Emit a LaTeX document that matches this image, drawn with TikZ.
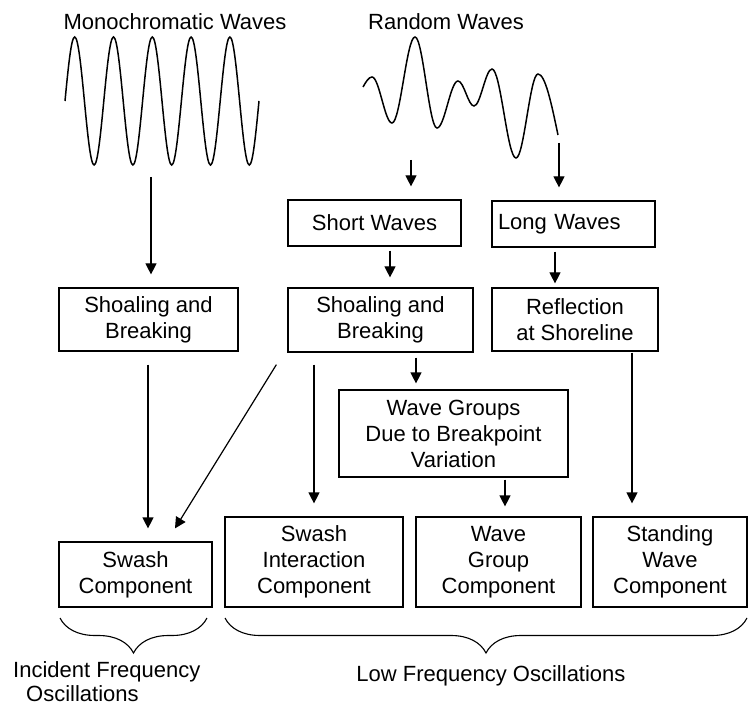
\documentclass[tikz,border=0pt]{standalone}
\usepackage{fontspec}
\setmainfont{Liberation Sans}
\usetikzlibrary{arrows.meta,calc,decorations.pathreplacing}

\begin{document}
\begin{tikzpicture}[x=1pt, y=-1pt,
    box/.style={draw, line width=1.2pt, inner sep=0pt, align=center, font=\fontsize{22}{26}\selectfont},
    lbl/.style={inner sep=0pt, align=center, font=\fontsize{22}{26}\selectfont},
    arr/.style={-{Triangle[length=11pt, width=11pt]}, line width=1.2pt},
    wave/.style={line width=1.5pt},
    brc/.style={decorate, decoration={brace, mirror, amplitude=35pt}, line width=1.1pt}]
    \useasboundingbox (0,0) rectangle (748,706);

    % Define nodes
    \node (mono) at (175,22) [lbl] {Monochromatic Waves};
    \node (rand) at (446,22) [lbl] {Random Waves};
    \node (short) at (374.5,223) [box, minimum width=173pt, minimum height=46pt] {Short Waves};
    \node (long) at (573.5,224) [box, minimum width=163pt, minimum height=46pt, text width=151pt, align=left] {Long Waves};
    \node (shoalL) at (148.5,319.5) [box, minimum width=179pt, minimum height=63pt] {Shoaling and\\Breaking};
    \node (shoalM) at (380.5,320) [box, minimum width=185pt, minimum height=64pt] {Shoaling and\\Breaking};
    \node (refl) at (575,319.5) [box, minimum width=166pt, minimum height=63pt] {Reflection\\at Shoreline};
    \node (groups) at (453.5,433.5) [box, minimum width=229pt, minimum height=87pt] {Wave Groups\\Due to Breakpoint\\Variation};
    \node (swash) at (135.5,574.5) [box, minimum width=153pt, minimum height=65pt] {Swash\\Component};
    \node (swint) at (314,562) [box, minimum width=178pt, minimum height=90pt] {Swash\\Interaction\\Component};
    \node (wgc) at (498.5,562) [box, minimum width=165pt, minimum height=90pt] {Wave\\Group\\Component};
    \node (stand) at (670,562) [box, minimum width=154pt, minimum height=90pt] {Standing\\Wave\\Component};
    \node (incid) at (13,661) [lbl, anchor=north west, align=left, font=\fontsize{22}{24}\selectfont] {Incident Frequency\\\hspace{13pt}Oscillations};
    \node (low) at (491,665) [lbl, anchor=north] {Low Frequency Oscillations};

    % Waves
    \draw[wave] (65,101) \foreach \i in {1,...,5} { sin ++(9.7,-64) cos ++(9.7,64) sin ++(9.7,64) cos ++(9.7,-64) };
    \draw[wave] (363,87) sin (372,77) cos (382,100) sin (392,123) cos (403.5,80) sin (415,37)
        cos (426,82.5) sin (437,128) cos (447.5,104.5) sin (458,81) cos (466,93.5) sin (474,106)
        cos (483,87.5) sin (492,69) cos (504,113.5) sin (516,158) cos (527,116) sin (538,74) cos (558,135);

    % Draw arrows
    \coordinate (monoA) at (151,177);
    \coordinate (randA) at (411,160);
    \coordinate (randB) at (559,143);
    \draw[arr, shorten >=13pt] (monoA) -- (monoA |- shoalL.north);
    \draw[arr, shorten >=13pt] (randA) -- (randA |- short.north);
    \draw[arr, shorten >=13pt] (randB) -- (randB |- long.north);
    \draw[arr, shorten <=4pt, shorten >=10pt] (short.south -| 390,0) -- (shoalM.north -| 390,0);
    \draw[arr, shorten <=4pt, shorten >=4pt] (long.south -| 555,0) -- (refl.north -| 555,0);
    \draw[arr, shorten <=13pt, shorten >=13pt] (shoalL.south -| 148,0) -- (swash.north -| 148,0);
    \draw[arr] ($(shoalM.south west)+(-11,12)$) -- ($(swash.north)+(39.5,-13)$);
    \draw[arr, shorten <=12pt, shorten >=13pt] (shoalM.south -| 314,0) -- (swint.north -| 314,0);
    \draw[arr, shorten <=5pt, shorten >=6pt] (shoalM.south -| 416,0) -- (groups.north -| 416,0);
    \draw[arr, shorten <=2pt, shorten >=10pt] (groups.south -| 505,0) -- (wgc.north -| 505,0);
    \draw[arr, shorten <=1pt, shorten >=13pt] (refl.south -| 632,0) -- (stand.north -| 632,0);

    % Braces
    \draw[brc] (60,618) -- (207,618);
    \draw[brc] (225,618) -- (747,618);
\end{tikzpicture}
\end{document}
